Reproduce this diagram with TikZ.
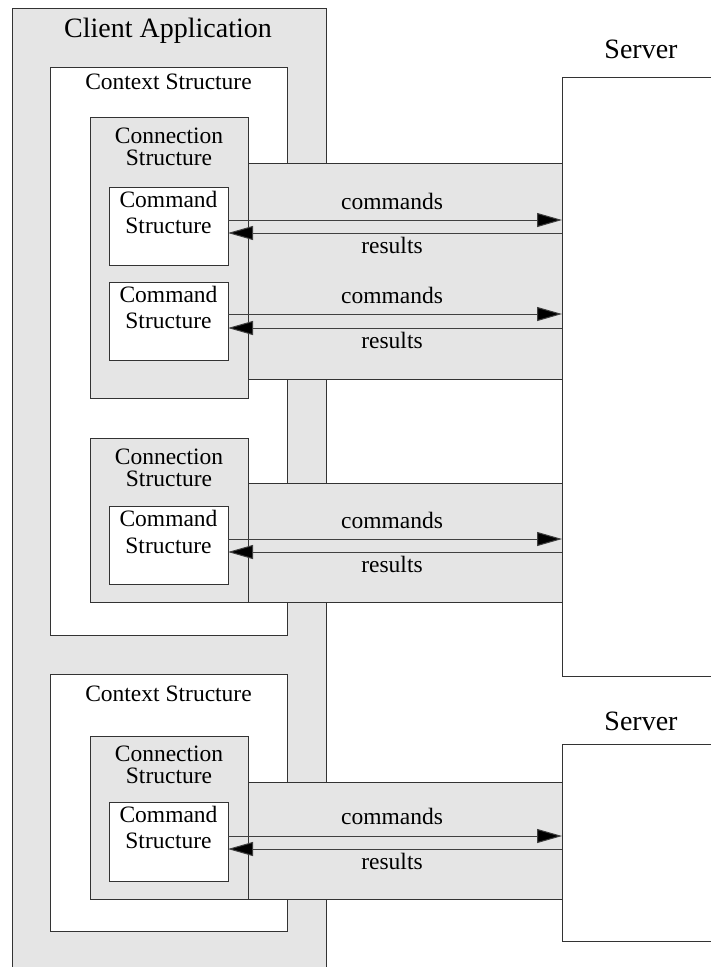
\documentclass[tikz,border=0pt]{standalone}
\usepackage{fontspec}
\setmainfont{Liberation Serif}
\usetikzlibrary{arrows.meta}
\begin{document}
\begin{tikzpicture}[x=1pt,y=-1pt,
  box/.style={draw=black!80, line width=1pt, anchor=north west, inner sep=0pt, outer sep=0pt},
  graybox/.style={box, fill=black!10},
  whitebox/.style={box, fill=white},
  lbl/.style={anchor=base, inner sep=0pt, font=\fontsize{23.5}{28}\selectfont},
  biglbl/.style={anchor=base, inner sep=0pt, font=\fontsize{28}{32}\selectfont},
  arr/.style={draw=black!75, line width=1pt, -{Triangle[length=25pt,width=14pt,fill=black]}}
]
\useasboundingbox (0,0) rectangle (711,967);
% boxes
\node[graybox, minimum width=314pt, minimum height=980pt] (client) at (12,8) {};
\node[whitebox, minimum width=237pt, minimum height=568pt] (ctx1) at (50,67) {};
\node[whitebox, minimum width=237pt, minimum height=257pt] (ctx2) at (50,674) {};
\node[graybox, minimum width=158pt, minimum height=281pt] (con1) at (90,117) {};
\node[graybox, minimum width=158pt, minimum height=164pt] (con2) at (90,438) {};
\node[graybox, minimum width=158pt, minimum height=163pt] (con3) at (90,736) {};
\node[graybox, minimum width=314pt, minimum height=216pt] (band1) at (248,163) {};
\node[graybox, minimum width=314pt, minimum height=119pt] (band2) at (248,483) {};
\node[graybox, minimum width=314pt, minimum height=117pt] (band3) at (248,782) {};
\node[whitebox, minimum width=119pt, minimum height=78pt] (cmd1) at (109,187) {};
\node[whitebox, minimum width=119pt, minimum height=78pt] (cmd2) at (109,282) {};
\node[whitebox, minimum width=119pt, minimum height=78pt] (cmd3) at (109,506) {};
\node[whitebox, minimum width=119pt, minimum height=79pt] (cmd4) at (109,802) {};
\node[whitebox, minimum width=170pt, minimum height=599pt] (srv1) at (562,77) {};
\node[whitebox, minimum width=170pt, minimum height=197pt] (srv2) at (562,744) {};
% titles
\node[biglbl] (tclient) at (168,37) {Client Application};
\node[biglbl] (tsrv1) at (641,58) {Server};
\node[biglbl] (tsrv2) at (641,730) {Server};
\node[lbl] (tctx1) at (168.5,89) {Context Structure};
\node[lbl] (tctx2) at (168.5,701) {Context Structure};
\node[lbl] (tcon1a) at (169,143) {Connection};
\node[lbl] (tcon1b) at (169,165) {Structure};
\node[lbl] (tcon2a) at (169,464) {Connection};
\node[lbl] (tcon2b) at (169,486) {Structure};
\node[lbl] (tcon3a) at (169,761) {Connection};
\node[lbl] (tcon3b) at (169,783) {Structure};
\node[lbl] (tcmd1a) at (168.5,207) {Command};
\node[lbl] (tcmd1b) at (168.5,233) {Structure};
\node[lbl] (tcmd2a) at (168.5,302) {Command};
\node[lbl] (tcmd2b) at (168.5,328) {Structure};
\node[lbl] (tcmd3a) at (168.5,526) {Command};
\node[lbl] (tcmd3b) at (168.5,553) {Structure};
\node[lbl] (tcmd4a) at (168.5,822) {Command};
\node[lbl] (tcmd4b) at (168.5,848) {Structure};
% arrows
\draw[arr] ([yshift=-33pt]cmd1.north east) -- ([yshift=-33pt]cmd1.north east -| srv1.west);
\draw[arr] ([yshift=-46pt]cmd1.north east -| srv1.west) -- ([yshift=-46pt]cmd1.north east);
\draw[arr] ([yshift=-32pt]cmd2.north east) -- ([yshift=-32pt]cmd2.north east -| srv1.west);
\draw[arr] ([yshift=-46pt]cmd2.north east -| srv1.west) -- ([yshift=-46pt]cmd2.north east);
\draw[arr] ([yshift=-33pt]cmd3.north east) -- ([yshift=-33pt]cmd3.north east -| srv1.west);
\draw[arr] ([yshift=-46pt]cmd3.north east -| srv1.west) -- ([yshift=-46pt]cmd3.north east);
\draw[arr] ([yshift=-34pt]cmd4.north east) -- ([yshift=-34pt]cmd4.north east -| srv2.west);
\draw[arr] ([yshift=-47pt]cmd4.north east -| srv2.west) -- ([yshift=-47pt]cmd4.north east);
% arrow labels
\node[lbl] (c1) at (392,209) {commands};
\node[lbl] (r1) at (392,253) {results};
\node[lbl] (c2) at (392,303) {commands};
\node[lbl] (r2) at (392,348) {results};
\node[lbl] (c3) at (392,528) {commands};
\node[lbl] (r3) at (392,572) {results};
\node[lbl] (c4) at (392,824) {commands};
\node[lbl] (r4) at (392,869) {results};
\end{tikzpicture}
\end{document}
